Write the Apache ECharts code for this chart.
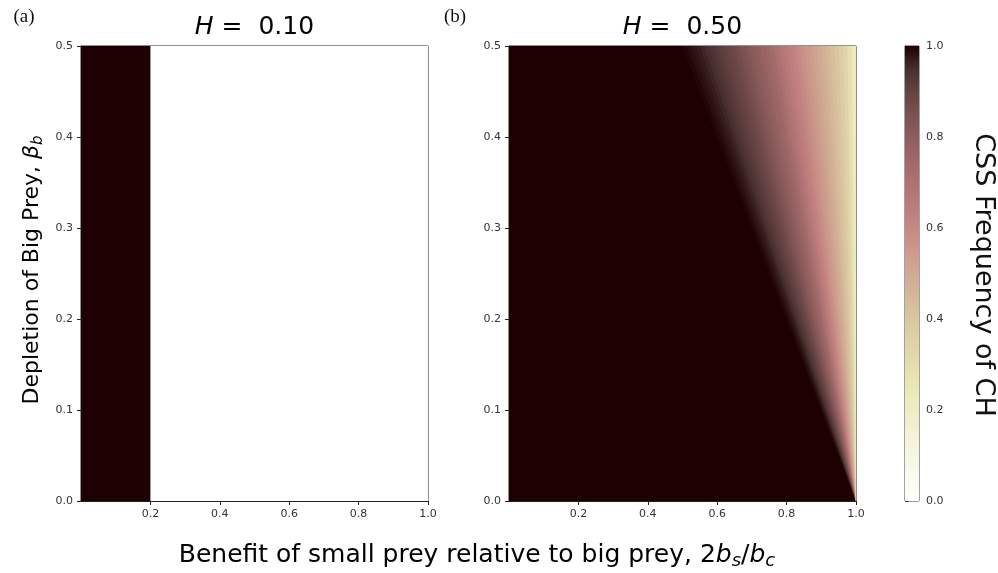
<!DOCTYPE html>
<html><head><meta charset="utf-8">
<script src="https://cdn.jsdelivr.net/npm/echarts@6/dist/echarts.min.js"></script>
<style>html,body{margin:0;padding:0;background:#fff}#c{width:998px;height:573px}</style>
</head><body><div id="c"></div>
<script>
// ---------------- DATA ----------------
const xTicks = [0.2, 0.4, 0.6, 0.8, 1.0];
const yTicks = [0.0, 0.1, 0.2, 0.3, 0.4, 0.5];
const cbTicks = [0.0, 0.2, 0.4, 0.6, 0.8, 1.0];
const panelH = ['0.10', '0.50'];
const panelTags = ['(a)', '(b)'];

// Panel (a), H = 0.10 : vertical strips [xFrom, xTo, CSS frequency of CH]
const stripsA = [[0.2, 1.0, 0.0], [0.0, 0.2, 1.0]];

// Panel (b), H = 0.50 : all-CH region left of the boundary from (0.5, 0.5) to (1.0, 0.0)
const darkRegionB = [[0.0, 0.0], [0.0, 0.5], [0.5, 0.5], [1.0, 0.0]];
const darkFreqB = 1.0;
// Fan bands radiating from the corner (1.0, 0.0): x where each band starts on the top edge (β_b = 0.5)
const fanApexB = [1.0, 0.0];
const fanTopY_B = 0.5;
const fanTopX_B = [0.5, 0.5125, 0.525, 0.5375, 0.55, 0.5625, 0.575, 0.5875, 0.6, 0.6125,
  0.625, 0.6375, 0.65, 0.6625, 0.675, 0.6875, 0.7, 0.7125, 0.725, 0.7375,
  0.75, 0.7625, 0.775, 0.7875, 0.8, 0.8125, 0.825, 0.8375, 0.85, 0.8625,
  0.875, 0.8875, 0.9, 0.9125, 0.925, 0.9375, 0.95, 0.9625, 0.975, 0.9875, 1.0];
// CSS frequency of CH in each band
const fanFreqB = [0.995, 0.985, 0.978, 0.970, 0.960, 0.950, 0.938, 0.926, 0.915, 0.903,
  0.892, 0.881, 0.867, 0.851, 0.835, 0.818, 0.802, 0.786, 0.770, 0.753,
  0.734, 0.710, 0.686, 0.662, 0.640, 0.620, 0.600, 0.580, 0.560, 0.540,
  0.520, 0.500, 0.477, 0.452, 0.427, 0.402, 0.373, 0.337, 0.290, 0.230];

// colormap (matplotlib pink_r), from frequency 0 to 1
const pinkR = ['#ffffff','#fbfbf2','#f6f6e4','#f2f2d5','#ededc6','#e9e9b4','#e4deae','#dfd2a8',
  '#dac6a1','#d5b89a','#d0aa93','#cb9a8c','#c68984','#bc7b7b','#ae7272','#9f6868','#8e5d5d',
  '#7b5151','#654242','#472f2f','#1e0000'];

// ---------------- BUILD ----------------
const itemsA = stripsA.map(s => [s[2], s[0], 0, s[0], 0.5, s[1], 0.5, s[1], 0]);
const itemsB = [[darkFreqB].concat(...darkRegionB)];
const rightX = fanTopX_B[fanTopX_B.length - 1];
for (let i = 0; i < fanFreqB.length; i++) {
  // each band is drawn from its start ray to the right edge; the next band covers the rest
  itemsB.push([fanFreqB[i], fanApexB[0], fanApexB[1], fanTopX_B[i], fanTopY_B,
               rightX, fanTopY_B, fanApexB[0], fanApexB[1]]);
}

function polyRender(params, api) {
  const pts = [];
  for (let k = 0; k < 4; k++) pts.push(api.coord([api.value(1 + 2 * k), api.value(2 + 2 * k)]));
  const c = api.visual('color');
  const st = { fill: c };
  if (params.seriesIndex === 1 && params.dataIndex === 0) { st.stroke = c; st.lineWidth = 1.2; }
  return { type: 'polygon', shape: { points: pts }, style: st };
}

const FONT = 'DejaVu Sans';
const tickColor = '#333';
const lineColor = '#222';

function xAx(gi) {
  return {
    type: 'value', gridIndex: gi, min: 0, max: 1, interval: 0.2,
    axisLine: { show: true, onZero: false, lineStyle: { color: lineColor, width: 1 } },
    axisTick: { show: true, length: 4, customValues: xTicks, lineStyle: { color: lineColor } },
    axisLabel: { customValues: xTicks, formatter: v => v.toFixed(1), fontSize: 11, color: tickColor, margin: 8, fontFamily: FONT },
    splitLine: { show: false }
  };
}
function yAx(gi) {
  return {
    type: 'value', gridIndex: gi, min: 0, max: 0.5, interval: 0.1,
    axisLine: { show: true, onZero: false, lineStyle: { color: lineColor, width: 1 } },
    axisTick: { show: true, length: 4, customValues: yTicks, lineStyle: { color: lineColor } },
    axisLabel: { customValues: yTicks, formatter: v => v.toFixed(1), fontSize: 11, color: tickColor, margin: 8, fontFamily: FONT },
    splitLine: { show: false }
  };
}

const cbStops = pinkR.map((c, k) => ({ offset: 1 - k / (pinkR.length - 1), color: c })).reverse();

const chart = echarts.init(document.getElementById('c'), null, { renderer: 'canvas' });
const gridBase = { show: true, borderColor: lineColor, borderWidth: 1, backgroundColor: 'transparent', containLabel: false };

const richMain = (fs) => ({
  n: { fontFamily: FONT, fontSize: fs, color: '#111', lineHeight: fs + 6 },
  i: { fontFamily: FONT, fontStyle: 'italic', fontSize: fs, color: '#111', lineHeight: fs + 6 },
  s: { fontFamily: FONT, fontStyle: 'italic', fontSize: Math.round(fs * 0.7), color: '#111', lineHeight: Math.round(fs * 0.7), verticalAlign: 'bottom' }
});

chart.setOption({
  animation: false,
  backgroundColor: '#fff',
  grid: [
    Object.assign({ left: 81, top: 46, width: 347, height: 455 }, gridBase),
    Object.assign({ left: 509, top: 46, width: 347, height: 455 }, gridBase),
    Object.assign({ left: 905, top: 46, width: 14, height: 455 }, gridBase, { borderColor: '#444' })
  ],
  xAxis: [xAx(0), xAx(1), { type: 'value', gridIndex: 2, min: 0, max: 1, show: false }],
  yAxis: [yAx(0), yAx(1), {
    type: 'value', gridIndex: 2, min: 0, max: 1, interval: 0.2, position: 'right',
    axisLine: { show: true, lineStyle: { color: '#444' } },
    axisTick: { show: true, length: 4, customValues: cbTicks, lineStyle: { color: '#444' } },
    axisLabel: { customValues: cbTicks, formatter: v => v.toFixed(1), fontSize: 11, color: tickColor, margin: 7, fontFamily: FONT },
    splitLine: { show: false }
  }],
  visualMap: {
    type: 'continuous', show: false, min: 0, max: 1, dimension: 0, seriesIndex: [0, 1],
    inRange: { color: pinkR }
  },
  series: [
    { type: 'custom', xAxisIndex: 0, yAxisIndex: 0, clip: true, renderItem: polyRender, data: itemsA, z: 1 },
    { type: 'custom', xAxisIndex: 1, yAxisIndex: 1, clip: true, renderItem: polyRender, data: itemsB, z: 1 },
    { type: 'custom', xAxisIndex: 2, yAxisIndex: 2, clip: true, data: [[0, 1]],
      renderItem: function (params, api) {
        const p0 = api.coord([0, 1]), p1 = api.coord([1, 0]);
        return { type: 'rect', shape: { x: p0[0], y: p0[1], width: p1[0] - p0[0], height: p1[1] - p0[1] },
          style: { fill: { type: 'linear', x: 0, y: 0, x2: 0, y2: 1, colorStops: cbStops } } };
      } }
  ],
  graphic: [
    { type: 'text', x: 254.5, y: 27, style: { text: '{i|H}{n| =  ' + panelH[0] + '}', rich: richMain(25), align: 'center', verticalAlign: 'middle' } },
    { type: 'text', x: 682.5, y: 27, style: { text: '{i|H}{n| =  ' + panelH[1] + '}', rich: richMain(25), align: 'center', verticalAlign: 'middle' } },
    { type: 'text', x: 24, y: 17, style: { text: panelTags[0], font: '19px "Liberation Serif"', fill: '#111', align: 'center', verticalAlign: 'middle' } },
    { type: 'text', x: 455, y: 17, style: { text: panelTags[1], font: '19px "Liberation Serif"', fill: '#111', align: 'center', verticalAlign: 'middle' } },
    { type: 'text', x: 32, y: 270, rotation: Math.PI / 2,
      style: { text: '{n|Depletion of Big Prey, }{i|β}{s|b}', rich: richMain(22), align: 'center', verticalAlign: 'middle' } },
    { type: 'text', x: 477, y: 555,
      style: { text: '{n|Benefit of small prey relative to big prey, 2}{i|b}{s|s}{n|/}{i|b}{s|c}', rich: richMain(25), align: 'center', verticalAlign: 'middle' } },
    { type: 'text', x: 983, y: 275, rotation: -Math.PI / 2,
      style: { text: 'CSS Frequency of CH', font: '27px "DejaVu Sans"', fill: '#111', align: 'center', verticalAlign: 'middle' } }
  ]
});
</script></body></html>
